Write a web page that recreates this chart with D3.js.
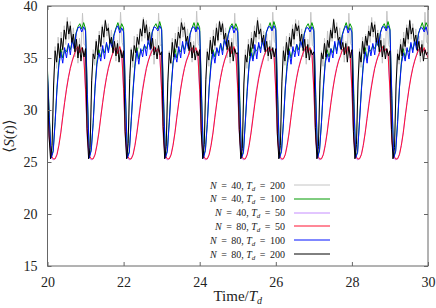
<!DOCTYPE html>
<html>
<head>
<meta charset="utf-8">
<script src="https://cdn.jsdelivr.net/npm/d3@7"></script>
<style>
  body { margin: 0; background: #fff; }
  svg text { font-family: "Liberation Serif", "DejaVu Serif", serif; fill: #222; }
</style>
</head>
<body>
<svg id="chart" width="436" height="308"></svg>
<script>
// time axis: every series starts at t = 20, fixed sampling step
const tStart = 20;
const stepFine = 0.04;   // N = 40/80, Td = 200 (noisy ones)
const stepCoarse = 0.05; // the other four

const xTicks = [20, 22, 24, 26, 28, 30];
const yTicks = [15, 20, 25, 30, 35, 40];

// N = 80, Td = 200  (black)
const n80td200 = [
  33.0, 27.5, 25.3, 26.6, 32.4, 35.7, 34.6, 36.4, 35.0, 36.9, 35.8, 37.7, 36.8, 38.5, 37.3, 38.1, 36.5, 37.3, 35.6, 36.8, 35.0, 36.3, 34.7, 36.0, 35.1,
  35.9, 28.2, 25.3, 26.4, 32.8, 35.4, 34.9, 36.6, 35.3, 37.2, 36.1, 38.0, 37.0, 38.6, 37.6, 37.9, 36.4, 37.0, 35.5, 36.6, 35.2, 36.4, 34.6, 35.8, 35.0,
  35.7, 27.9, 25.3, 26.8, 33.0, 35.8, 34.7, 36.2, 35.5, 37.0, 36.3, 37.8, 37.1, 38.7, 37.4, 38.2, 36.7, 37.5, 35.9, 36.9, 35.3, 36.0, 34.9, 36.2, 35.3,
  35.6, 28.4, 25.3, 26.5, 32.6, 35.5, 34.5, 36.5, 35.1, 36.8, 36.0, 37.5, 36.9, 38.4, 37.7, 38.0, 36.6, 37.1, 35.7, 36.5, 35.0, 36.2, 34.8, 35.7, 35.2,
  35.8, 28.0, 25.3, 26.7, 32.9, 35.6, 34.8, 36.7, 35.4, 37.1, 36.2, 37.9, 36.7, 38.5, 37.5, 38.3, 36.8, 37.4, 35.8, 36.7, 35.1, 36.5, 34.7, 35.9, 35.4,
  35.5, 28.1, 25.3, 26.3, 32.5, 35.3, 34.6, 36.3, 35.2, 36.9, 35.9, 37.6, 37.0, 38.6, 37.3, 37.8, 36.5, 37.2, 35.6, 36.6, 35.2, 36.1, 34.9, 36.0, 35.1,
  35.9, 27.7, 25.3, 26.6, 32.7, 35.7, 34.7, 36.5, 35.3, 37.0, 36.1, 37.8, 36.8, 38.3, 37.6, 38.1, 36.6, 37.3, 35.7, 36.8, 35.0, 36.3, 34.8, 35.8, 35.3,
  35.6, 28.3, 25.3, 26.5, 32.8, 35.5, 34.9, 36.4, 35.1, 36.7, 36.0, 37.7, 36.9, 38.7, 37.4, 38.0, 36.7, 37.0, 35.8, 36.5, 35.3, 36.4, 34.6, 36.1, 35.0,
  35.8, 27.9, 25.3, 26.7, 32.6, 35.6, 34.6, 36.6, 35.4, 37.1, 36.2, 37.6, 37.1, 38.4, 37.5, 38.2, 36.5, 37.4, 35.6, 36.7, 35.1, 36.2, 34.9, 35.9, 35.2,
  35.7, 28.1, 25.3, 26.4, 32.4, 35.4, 34.8, 36.3, 35.2, 36.9, 36.1, 37.9, 36.8, 38.6, 37.3, 37.9, 36.6, 37.2, 35.7, 36.6, 35.2, 36.3, 34.7, 35.8, 35.3,
  35.6
];

// N = 40, Td = 200  (light grey)
const n40td200 = [
  32.8, 28.0, 25.4, 26.0, 31.6, 36.1, 34.0, 37.0, 34.7, 37.5, 35.5, 38.1, 36.3, 38.9, 36.8, 38.5, 36.0, 37.9, 35.1, 37.3, 34.5, 36.9, 35.4, 39.3, 36.3,
  36.2, 28.7, 25.4, 26.3, 31.9, 35.8, 34.3, 36.8, 34.9, 37.6, 35.7, 38.2, 36.4, 38.7, 37.1, 38.3, 36.2, 37.7, 35.4, 37.0, 34.7, 36.7, 35.6, 39.4, 36.5,
  36.0, 28.4, 25.4, 26.1, 32.2, 36.0, 34.1, 37.1, 34.6, 37.3, 35.9, 37.9, 36.6, 38.9, 36.9, 38.6, 36.3, 38.0, 35.2, 37.4, 34.4, 36.8, 35.3, 39.3, 36.2,
  36.3, 28.9, 25.4, 26.2, 31.7, 35.7, 34.4, 36.9, 34.8, 37.4, 35.6, 38.0, 36.2, 38.8, 37.0, 38.4, 36.1, 37.8, 35.3, 37.1, 34.6, 36.6, 35.5, 39.5, 36.4,
  36.1, 28.5, 25.4, 26.4, 32.0, 35.9, 34.2, 37.0, 34.9, 37.7, 35.8, 38.3, 36.5, 38.6, 37.2, 38.5, 36.4, 37.9, 35.0, 37.2, 34.5, 36.9, 35.4, 39.3, 36.3,
  36.0, 28.6, 25.4, 26.0, 31.8, 35.8, 34.0, 36.8, 34.7, 37.5, 35.7, 38.1, 36.4, 38.9, 36.8, 38.3, 36.2, 37.6, 35.3, 37.3, 34.7, 36.7, 35.6, 39.4, 36.6,
  36.4, 28.3, 25.4, 26.3, 32.1, 36.1, 34.3, 37.1, 34.6, 37.4, 35.9, 38.2, 36.3, 38.7, 37.1, 38.6, 36.0, 37.8, 35.1, 37.0, 34.4, 36.8, 35.3, 39.4, 36.2,
  36.1, 28.8, 25.4, 26.2, 31.9, 35.7, 34.2, 36.9, 34.8, 37.6, 35.6, 37.9, 36.6, 38.8, 36.9, 38.4, 36.3, 37.9, 35.4, 37.2, 34.6, 36.6, 35.5, 39.3, 36.4,
  36.2, 28.4, 25.4, 26.1, 32.0, 35.9, 34.1, 37.0, 34.9, 37.3, 35.8, 38.1, 36.5, 38.9, 37.0, 38.5, 36.1, 37.7, 35.2, 37.3, 34.5, 36.9, 35.4, 39.5, 36.3,
  36.0, 28.6, 25.4, 26.3, 31.8, 35.8, 34.4, 36.8, 34.7, 37.5, 35.7, 38.2, 36.4, 38.7, 36.8, 38.3, 36.2, 37.8, 35.3, 37.1, 34.6, 36.7, 35.6, 39.4, 36.5,
  36.4
];

// N = 80, Td = 100  (blue)
const n80td100 = [
  33.5, 29.0, 25.4, 26.0, 28.8, 32.0, 34.3, 35.6, 34.5, 36.0, 35.0, 36.4, 35.3, 36.8, 35.9, 37.3, 37.9, 38.0, 37.5, 38.0,
  37.6, 31.0, 25.4, 26.1, 28.7, 32.1, 34.4, 35.5, 34.7, 36.2, 34.9, 36.5, 35.5, 36.6, 36.0, 37.2, 37.8, 38.1, 37.4, 37.9,
  37.5, 31.2, 25.4, 25.9, 28.9, 31.9, 34.2, 35.7, 34.4, 35.9, 35.1, 36.3, 35.2, 36.9, 35.8, 37.4, 38.0, 37.9, 37.6, 38.1,
  37.7, 30.8, 25.4, 26.0, 28.8, 32.0, 34.5, 35.4, 34.6, 36.1, 35.0, 36.6, 35.4, 36.7, 35.9, 37.3, 37.9, 38.0, 37.5, 38.0,
  37.6, 31.1, 25.4, 26.1, 28.6, 32.2, 34.3, 35.6, 34.5, 36.0, 35.2, 36.4, 35.3, 36.8, 36.1, 37.2, 37.8, 38.1, 37.4, 37.9,
  37.5, 30.9, 25.4, 25.9, 28.9, 31.8, 34.4, 35.5, 34.7, 36.3, 34.9, 36.5, 35.5, 36.9, 35.8, 37.4, 38.0, 38.0, 37.6, 38.1,
  37.7, 31.0, 25.4, 26.0, 28.7, 32.1, 34.2, 35.7, 34.4, 36.1, 35.1, 36.3, 35.2, 36.7, 36.0, 37.3, 37.9, 37.9, 37.5, 38.0,
  37.6, 31.2, 25.4, 26.1, 28.8, 32.0, 34.5, 35.4, 34.6, 35.9, 35.0, 36.6, 35.4, 36.8, 35.9, 37.2, 37.8, 38.1, 37.4, 37.9,
  37.5, 30.8, 25.4, 25.9, 28.9, 31.9, 34.3, 35.6, 34.5, 36.2, 35.2, 36.4, 35.3, 36.9, 36.1, 37.4, 38.0, 38.0, 37.6, 38.1,
  37.7, 31.1, 25.4, 26.0, 28.6, 32.1, 34.4, 35.5, 34.7, 36.0, 34.9, 36.5, 35.5, 36.7, 35.8, 37.3, 37.9, 37.9, 37.5, 38.0,
  37.2
];

// N = 40, Td = 100  (green)
const n40td100 = [
  33.8, 29.3, 25.5, 26.1, 28.9, 32.2, 34.6, 35.9, 35.0, 35.8, 35.6, 36.3, 35.8, 36.6, 36.2, 37.4, 38.0, 38.3, 37.8, 38.4,
  37.8, 31.5, 25.5, 26.2, 28.8, 32.3, 34.7, 35.8, 35.1, 35.9, 35.5, 36.4, 35.7, 36.7, 36.3, 37.3, 37.9, 38.4, 37.7, 38.3,
  37.9, 31.6, 25.5, 26.0, 29.0, 32.1, 34.5, 36.0, 34.9, 35.7, 35.7, 36.2, 35.9, 36.5, 36.1, 37.5, 38.0, 38.3, 37.8, 38.5,
  37.8, 31.4, 25.5, 26.1, 28.9, 32.2, 34.6, 35.9, 35.0, 35.8, 35.6, 36.3, 35.8, 36.6, 36.2, 37.4, 37.9, 38.4, 37.7, 38.4,
  37.9, 31.5, 25.5, 26.2, 28.8, 32.3, 34.7, 35.8, 35.1, 35.9, 35.5, 36.4, 35.7, 36.7, 36.3, 37.3, 38.0, 38.3, 37.8, 38.3,
  37.8, 31.6, 25.5, 26.0, 29.0, 32.1, 34.5, 36.0, 34.9, 35.7, 35.7, 36.2, 35.9, 36.5, 36.1, 37.5, 37.9, 38.4, 37.7, 38.5,
  37.9, 31.4, 25.5, 26.1, 28.9, 32.2, 34.6, 35.9, 35.0, 35.8, 35.6, 36.3, 35.8, 36.6, 36.2, 37.4, 38.0, 38.3, 37.8, 38.4,
  37.8, 31.5, 25.5, 26.2, 28.8, 32.3, 34.7, 35.8, 35.1, 35.9, 35.5, 36.4, 35.7, 36.7, 36.3, 37.3, 37.9, 38.4, 37.7, 38.3,
  37.9, 31.6, 25.5, 26.0, 29.0, 32.1, 34.5, 36.0, 34.9, 35.7, 35.7, 36.2, 35.9, 36.5, 36.1, 37.5, 38.0, 38.3, 37.8, 38.5,
  37.8, 31.4, 25.5, 26.1, 28.9, 32.2, 34.6, 35.9, 35.0, 35.8, 35.6, 36.3, 35.8, 36.6, 36.2, 37.4, 37.9, 38.4, 37.7, 38.4,
  38.0
];

// N = 80, Td = 50  (red)
const n80td50 = [
  31.0, 27.2, 25.6, 25.3, 25.3, 25.7, 26.6, 27.8, 29.3, 30.7, 32.0, 33.1, 34.0, 34.7, 35.3, 35.8, 36.1, 35.5, 36.0, 35.4,
  32.0, 27.2, 25.6, 25.3, 25.3, 25.7, 26.6, 27.8, 29.3, 30.7, 32.0, 33.1, 34.0, 34.7, 35.3, 35.8, 36.0, 35.4, 36.1, 35.5,
  32.1, 27.3, 25.6, 25.3, 25.3, 25.7, 26.6, 27.8, 29.2, 30.6, 31.9, 33.0, 34.0, 34.7, 35.3, 35.7, 36.1, 35.6, 35.9, 35.4,
  31.9, 27.1, 25.6, 25.3, 25.3, 25.7, 26.6, 27.8, 29.3, 30.7, 32.0, 33.1, 34.0, 34.7, 35.2, 35.8, 36.0, 35.5, 36.0, 35.5,
  32.0, 27.2, 25.6, 25.3, 25.3, 25.7, 26.6, 27.8, 29.3, 30.7, 32.0, 33.1, 34.0, 34.7, 35.3, 35.8, 36.1, 35.4, 36.1, 35.4,
  32.1, 27.3, 25.6, 25.3, 25.3, 25.7, 26.6, 27.8, 29.2, 30.6, 31.9, 33.0, 33.9, 34.6, 35.3, 35.7, 36.0, 35.6, 35.9, 35.5,
  31.9, 27.1, 25.6, 25.3, 25.3, 25.7, 26.6, 27.8, 29.3, 30.7, 32.0, 33.1, 34.0, 34.7, 35.3, 35.8, 36.1, 35.5, 36.0, 35.4,
  32.0, 27.2, 25.6, 25.3, 25.3, 25.7, 26.6, 27.8, 29.3, 30.7, 32.0, 33.1, 34.0, 34.7, 35.2, 35.8, 36.0, 35.4, 36.1, 35.5,
  32.1, 27.3, 25.6, 25.3, 25.3, 25.7, 26.6, 27.8, 29.2, 30.6, 31.9, 33.0, 34.0, 34.7, 35.3, 35.7, 36.1, 35.6, 35.9, 35.4,
  31.9, 27.1, 25.6, 25.3, 25.3, 25.7, 26.6, 27.8, 29.3, 30.7, 32.0, 33.1, 34.0, 34.7, 35.3, 35.8, 36.0, 35.5, 36.0, 35.5,
  35.0
];

// N = 40, Td = 50  (light purple)
const n40td50 = [
  30.6, 26.9, 25.4, 25.2, 25.3, 25.8, 26.7, 27.9, 29.4, 30.8, 32.1, 33.2, 34.1, 34.8, 35.3, 35.7, 35.9, 35.6, 35.8, 35.5,
  31.6, 26.9, 25.4, 25.2, 25.3, 25.8, 26.7, 27.9, 29.4, 30.8, 32.1, 33.2, 34.1, 34.8, 35.3, 35.7, 35.9, 35.6, 35.8, 35.5,
  31.6, 26.9, 25.4, 25.2, 25.3, 25.8, 26.7, 27.9, 29.4, 30.8, 32.1, 33.2, 34.1, 34.8, 35.3, 35.7, 35.9, 35.6, 35.8, 35.5,
  31.6, 26.9, 25.4, 25.2, 25.3, 25.8, 26.7, 27.9, 29.4, 30.8, 32.1, 33.2, 34.1, 34.8, 35.3, 35.7, 35.9, 35.6, 35.8, 35.5,
  31.6, 26.9, 25.4, 25.2, 25.3, 25.8, 26.7, 27.9, 29.4, 30.8, 32.1, 33.2, 34.1, 34.8, 35.3, 35.7, 35.9, 35.6, 35.8, 35.5,
  31.6, 26.9, 25.4, 25.2, 25.3, 25.8, 26.7, 27.9, 29.4, 30.8, 32.1, 33.2, 34.1, 34.8, 35.3, 35.7, 35.9, 35.6, 35.8, 35.5,
  31.6, 26.9, 25.4, 25.2, 25.3, 25.8, 26.7, 27.9, 29.4, 30.8, 32.1, 33.2, 34.1, 34.8, 35.3, 35.7, 35.9, 35.6, 35.8, 35.5,
  31.6, 26.9, 25.4, 25.2, 25.3, 25.8, 26.7, 27.9, 29.4, 30.8, 32.1, 33.2, 34.1, 34.8, 35.3, 35.7, 35.9, 35.6, 35.8, 35.5,
  31.6, 26.9, 25.4, 25.2, 25.3, 25.8, 26.7, 27.9, 29.4, 30.8, 32.1, 33.2, 34.1, 34.8, 35.3, 35.7, 35.9, 35.6, 35.8, 35.5,
  31.6, 26.9, 25.4, 25.2, 25.3, 25.8, 26.7, 27.9, 29.4, 30.8, 32.1, 33.2, 34.1, 34.8, 35.3, 35.7, 35.9, 35.6, 35.8, 35.5,
  35.2
];

// draw order = legend order, black last (on top)
const seriesList = [
  { N: 40, Td: 200, values: n40td200, step: stepFine,   color: "#c4c4c4" },
  { N: 40, Td: 100, values: n40td100, step: stepCoarse, color: "#009a00" },
  { N: 40, Td: 50,  values: n40td50,  step: stepCoarse, color: "#c58cff" },
  { N: 80, Td: 50,  values: n80td50,  step: stepCoarse, color: "#ff1030" },
  { N: 80, Td: 100, values: n80td100, step: stepCoarse, color: "#0010ff" },
  { N: 80, Td: 200, values: n80td200, step: stepFine,   color: "#000000" }
];

const svg = d3.select("#chart");
const plotLeft = 47.5, plotRight = 428, plotTop = 6, plotBottom = 266;

const x = d3.scaleLinear().domain([20, 30]).range([plotLeft, plotRight]);
const y = d3.scaleLinear().domain([15, 40]).range([plotBottom, plotTop]);

svg.append("defs").append("clipPath").attr("id", "clip")
  .append("rect").attr("x", plotLeft).attr("y", plotTop)
  .attr("width", plotRight - plotLeft).attr("height", plotBottom - plotTop);

// curves
const line = d3.line()
  .x(d => x(d[0]))
  .y(d => y(d[1]));

const curves = svg.append("g").attr("clip-path", "url(#clip)");
seriesList.forEach(s => {
  const pts = s.values.map((v, i) => [tStart + i * s.step, v]);
  curves.append("path")
    .datum(pts)
    .attr("d", line)
    .attr("fill", "none")
    .attr("stroke", s.color)
    .attr("stroke-width", 1)
    .attr("stroke-linejoin", "round");
});

// axes: labelled bottom/left, mirrored ticks top/right, all ticks inward
function styleAxis(g) {
  g.select(".domain").remove();
  g.selectAll(".tick line").attr("stroke", "#666");
  g.selectAll(".tick text").style("font-size", "14px").attr("fill", "#222");
}

svg.append("g")
  .attr("transform", `translate(0,${plotBottom})`)
  .call(d3.axisBottom(x).tickValues(xTicks).tickSize(-4).tickPadding(11))
  .call(styleAxis);

svg.append("g")
  .attr("transform", `translate(0,${plotTop})`)
  .call(d3.axisTop(x).tickValues(xTicks).tickSize(-4).tickFormat(""))
  .call(styleAxis);

svg.append("g")
  .attr("transform", `translate(${plotLeft},0)`)
  .call(d3.axisLeft(y).tickValues(yTicks).tickSize(-4).tickPadding(10))
  .call(styleAxis);

svg.append("g")
  .attr("transform", `translate(${plotRight},0)`)
  .call(d3.axisRight(y).tickValues(yTicks).tickSize(-4).tickFormat(""))
  .call(styleAxis);

// frame
svg.append("rect")
  .attr("x", plotLeft).attr("y", plotTop)
  .attr("width", plotRight - plotLeft).attr("height", plotBottom - plotTop)
  .attr("fill", "none").attr("stroke", "#666").attr("stroke-width", 1);

// axis titles
const xl = svg.append("text")
  .attr("x", (plotLeft + plotRight) / 2).attr("y", 301)
  .attr("text-anchor", "middle").style("font-size", "15px");
xl.append("tspan").text("Time/");
xl.append("tspan").style("font-style", "italic").text("T");
xl.append("tspan").attr("dy", 3).style("font-size", "10px").style("font-style", "italic").text("d");

const yl = svg.append("text")
  .attr("transform", "translate(14,136) rotate(-90)")
  .attr("text-anchor", "middle").style("font-size", "15px");
yl.append("tspan").text("\u27E8");
yl.append("tspan").style("font-style", "italic").text("S");
yl.append("tspan").text("(");
yl.append("tspan").style("font-style", "italic").text("t");
yl.append("tspan").text(")\u27E9");

// legend
const legend = svg.append("g");
const gap = "\u2009";
seriesList.forEach((s, i) => {
  const ry = 185 + i * 13.8;
  const t = legend.append("text")
    .attr("x", 285).attr("y", ry + 3.5)
    .attr("text-anchor", "end").style("font-size", "10px");
  t.append("tspan").style("font-style", "italic").text("N");
  t.append("tspan").text(`${gap} = ${gap}${s.N}, `);
  t.append("tspan").style("font-style", "italic").text("T");
  t.append("tspan").attr("dy", 2).style("font-size", "7px").style("font-style", "italic").text("d");
  t.append("tspan").attr("dy", -2).text(`${gap} = ${gap}${s.Td}`);
  legend.append("line")
    .attr("x1", 294).attr("x2", 330)
    .attr("y1", Math.round(ry)).attr("y2", Math.round(ry))
    .attr("stroke", s.color).attr("stroke-width", 1);
});
</script>
</body>
</html>
